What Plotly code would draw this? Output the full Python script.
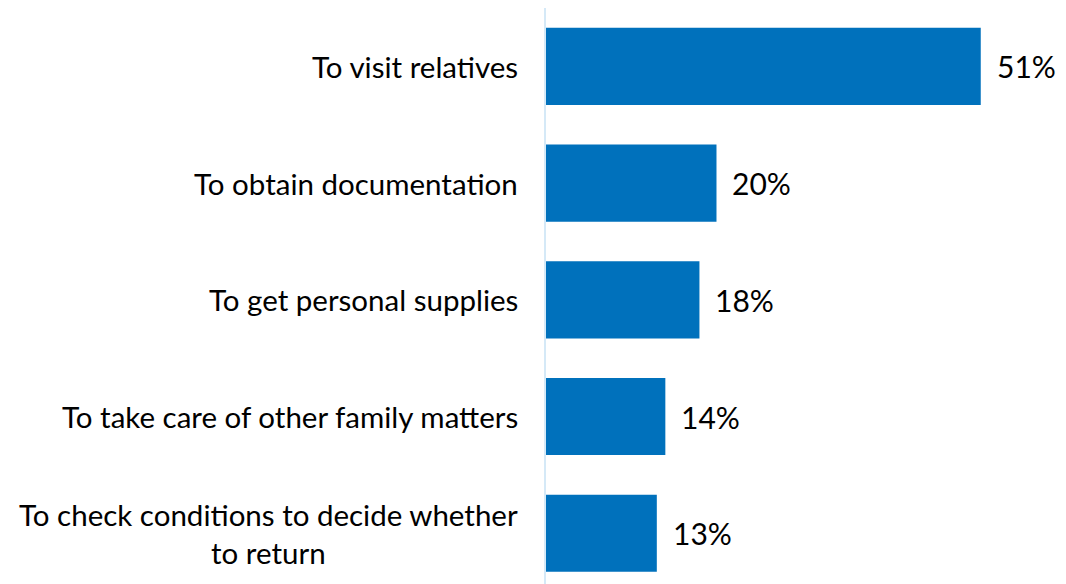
import plotly.graph_objects as go

# Reasons given for the trip, share of respondents (%)
categories = [
    "To visit relatives",
    "To obtain documentation",
    "To get personal supplies",
    "To take care of other family matters",
    "To check conditions to decide whether<br>to return",
]
values = [51, 20, 18, 14, 13]
value_labels = [f"{v}%" for v in values]

BAR_COLOR = "#0071BC"
AXIS_COLOR = "#D5E9F7"
FONT = "Lato"

positions = list(range(len(categories)))

fig = go.Figure(
    go.Bar(
        x=values,
        y=positions,
        orientation="h",
        marker=dict(color=BAR_COLOR, line=dict(width=0)),
        width=0.66,
        hoverinfo="skip",
    )
)

annotations = []
# category labels to the left of the axis
for pos, cat in zip(positions, categories):
    annotations.append(dict(
        x=0, xref="x", y=pos, yref="y",
        text=cat, showarrow=False,
        xanchor="right", yanchor="middle", align="center",
        xshift=-26,
        font=dict(family=FONT, size=29.5, color="#000000"),
    ))
# value labels past the bar ends
for pos, v, lab in zip(positions, values, value_labels):
    annotations.append(dict(
        x=v, xref="x", y=pos, yref="y",
        text=lab, showarrow=False,
        xanchor="left", yanchor="middle",
        xshift=14,
        font=dict(family=FONT, size=30, color="#000000"),
    ))

fig.update_layout(
    width=1066, height=584,
    margin=dict(l=546, r=0, t=8, b=0),
    paper_bgcolor="white", plot_bgcolor="white",
    showlegend=False,
    bargap=0.34,
    xaxis=dict(range=[0, 61.0], visible=False, fixedrange=True),
    yaxis=dict(
        range=[4.434, -0.5],
        showticklabels=False, ticks="", showgrid=False, zeroline=False,
        showline=True, linecolor=AXIS_COLOR, linewidth=2,
        fixedrange=True,
    ),
    annotations=annotations,
)

fig.write_html("out.html")
